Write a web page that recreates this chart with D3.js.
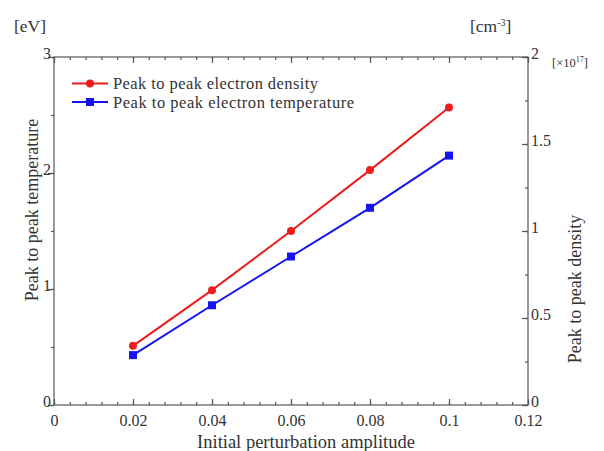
<!DOCTYPE html>
<html><head><meta charset="utf-8">
<script src="https://cdn.jsdelivr.net/npm/d3@7"></script>
<style>body{margin:0;background:#fff}</style>
</head><body><svg id="c" width="604" height="451" font-family="'Liberation Serif','DejaVu Serif',serif"></svg>
<script>
const amplitude = [0.02, 0.04, 0.06, 0.08, 0.1];
const density = [0.34, 0.66, 1.0, 1.35, 1.71];       // x10^17 cm^-3, right axis
const temperature = [0.43, 0.86, 1.28, 1.70, 2.15];  // eV, left axis
const xTicks = [0, 0.02, 0.04, 0.06, 0.08, 0.1, 0.12];
const yLeftTicks = [0, 1, 2, 3];
const yRightTicks = [0, 0.5, 1, 1.5, 2];
const seriesNames = ["Peak to peak electron density", "Peak to peak electron temperature"];

const FONT = "'Liberation Serif','DejaVu Serif',serif";
const svg = d3.select("#c");
const L = 54, R = 528, T = 57, B = 405;
const x = d3.scaleLinear().domain([0, 0.12]).range([L, R]);
const yL = d3.scaleLinear().domain([0, 3]).range([B, T]);
const yR = d3.scaleLinear().domain([0, 2]).range([B, T]);
const axisCol = "#555";
const txtCol = "#333";

svg.append("rect").attr("x", L).attr("y", T).attr("width", R - L).attr("height", B - T)
  .attr("fill", "none").attr("stroke", axisCol).attr("stroke-width", 1.2);

function styleAxis(g) {
  g.attr("font-family", FONT);
  g.select(".domain").remove();
  g.selectAll("line").attr("stroke", axisCol).attr("stroke-width", 1.2);
  g.selectAll("text").attr("font-size", 16).attr("fill", txtCol).attr("font-family", FONT);
}
const xMinor = d3.range(0, 0.12001, 0.004);
svg.append("g").attr("transform", `translate(0,${B})`)
  .call(d3.axisBottom(x).tickValues(xMinor).tickSize(-3).tickFormat("")).call(styleAxis);
svg.append("g").attr("transform", `translate(0,${B})`)
  .call(d3.axisBottom(x).tickValues(xTicks).tickSize(-6).tickPadding(10).tickFormat(d3.format("~g"))).call(styleAxis);
svg.append("g").attr("transform", `translate(0,${T})`)
  .call(d3.axisTop(x).tickValues(xMinor).tickSize(-3).tickFormat("")).call(styleAxis);
svg.append("g").attr("transform", `translate(0,${T})`)
  .call(d3.axisTop(x).tickValues(xTicks).tickSize(-6).tickFormat("")).call(styleAxis);
svg.append("g").attr("transform", `translate(${L},0)`)
  .call(d3.axisLeft(yL).tickValues(d3.range(0, 3.01, 0.5)).tickSize(3).tickFormat("")).call(styleAxis);
const gl = svg.append("g").attr("transform", `translate(${L},0)`)
  .call(d3.axisLeft(yL).tickValues(yLeftTicks).tickSize(6).tickPadding(-3).tickFormat(d3.format("~g"))).call(styleAxis);
gl.selectAll("text").attr("dy", "0.12em");
svg.append("g").attr("transform", `translate(${R},0)`)
  .call(d3.axisRight(yR).tickValues(d3.range(0, 2.01, 0.25)).tickSize(-3).tickFormat("")).call(styleAxis);
const gr = svg.append("g").attr("transform", `translate(${R},0)`)
  .call(d3.axisRight(yR).tickValues(yRightTicks).tickSize(-6).tickPadding(3).tickFormat(d3.format("~g"))).call(styleAxis);
gr.selectAll("text").attr("dy", "0.12em");

const red = "#ee1c1c", blue = "#1414ee";
const dData = amplitude.map((a, i) => [a, density[i]]);
const tData = amplitude.map((a, i) => [a, temperature[i]]);
svg.append("path").datum(dData).attr("fill", "none").attr("stroke", red).attr("stroke-width", 2)
  .attr("d", d3.line().x(d => x(d[0])).y(d => yR(d[1])));
svg.append("path").datum(tData).attr("fill", "none").attr("stroke", blue).attr("stroke-width", 2)
  .attr("d", d3.line().x(d => x(d[0])).y(d => yL(d[1])));
svg.selectAll(".dm").data(dData).join("circle").attr("cx", d => x(d[0])).attr("cy", d => yR(d[1]))
  .attr("r", 4).attr("fill", red);
svg.selectAll(".tm").data(tData).join("rect").attr("x", d => x(d[0]) - 4).attr("y", d => yL(d[1]) - 4)
  .attr("width", 8).attr("height", 8).attr("fill", blue);

const legY = [83.5, 102];
const legLen = [205, 241];
const cols = [red, blue];
seriesNames.forEach((n, i) => {
  svg.append("line").attr("x1", 72).attr("x2", 108).attr("y1", legY[i]).attr("y2", legY[i])
    .attr("stroke", cols[i]).attr("stroke-width", 2);
  if (i === 0) svg.append("circle").attr("cx", 90).attr("cy", legY[i]).attr("r", 4).attr("fill", red);
  else svg.append("rect").attr("x", 86).attr("y", legY[i] - 4).attr("width", 8).attr("height", 8).attr("fill", blue);
  svg.append("text").attr("x", 113).attr("y", legY[i] + 5.5).attr("font-size", 16.5)
    .attr("textLength", legLen[i]).attr("lengthAdjust", "spacing").attr("fill", txtCol).text(n);
});

svg.append("text").attr("x", 14).attr("y", 32).attr("font-size", 17.5).attr("fill", txtCol).text("[eV]");
const cm = svg.append("text").attr("x", 470).attr("y", 32).attr("font-size", 17.5).attr("fill", txtCol);
cm.append("tspan").text("[cm");
cm.append("tspan").attr("font-size", 10).attr("dy", -6).text("-3");
cm.append("tspan").attr("dy", 6).text("]");
const sc = svg.append("text").attr("x", 552).attr("y", 67).attr("font-size", 12.5).attr("fill", txtCol);
sc.append("tspan").text("[×10");
sc.append("tspan").attr("font-size", 8).attr("dy", -5).text("17");
sc.append("tspan").attr("dy", 5).text("]");
svg.append("text").attr("transform", "translate(38,210) rotate(-90)").attr("text-anchor", "middle")
  .attr("font-size", 18).attr("fill", txtCol).text("Peak to peak temperature");
svg.append("text").attr("transform", "translate(581,289) rotate(-90)").attr("text-anchor", "middle")
  .attr("font-size", 18).attr("fill", txtCol).text("Peak to peak density");
svg.append("text").attr("x", 306).attr("y", 448).attr("text-anchor", "middle")
  .attr("font-size", 18.5).attr("fill", txtCol).text("Initial perturbation amplitude");
</script></body></html>
